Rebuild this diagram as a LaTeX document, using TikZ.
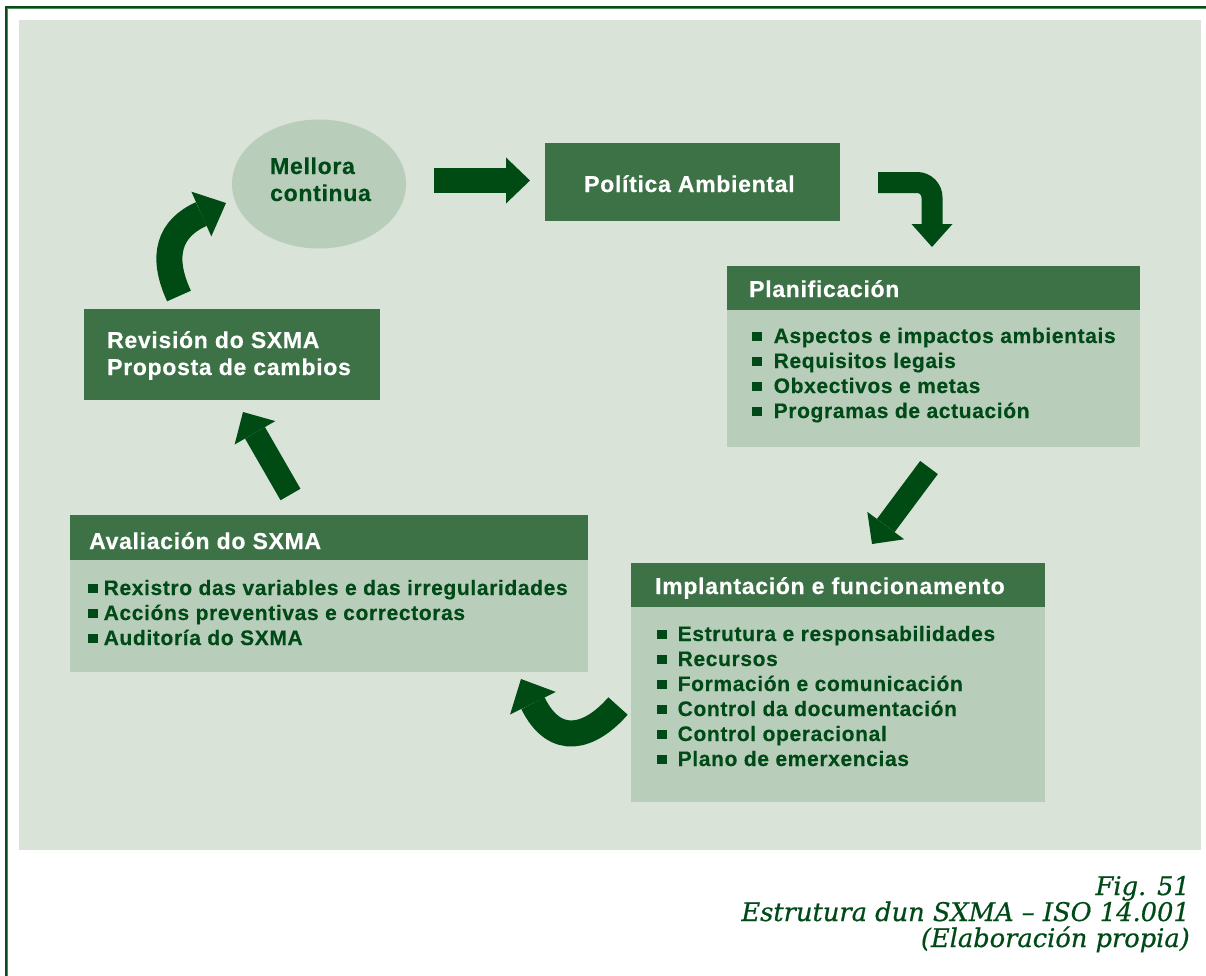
\documentclass[tikz,border=0pt]{standalone}
\usepackage{fontspec}
\newfontfamily\sansb{Liberation Sans}[LetterSpace=3,FakeBold=0.4]
\newfontfamily\capfont{DejaVu Serif}[FakeBold=0.6]
\usetikzlibrary{arrows.meta,shapes.geometric}
\definecolor{frameg}{HTML}{0B4A1B}
\definecolor{framel}{HTML}{4F8A5A}
\definecolor{panelg}{HTML}{D9E3D8}
\definecolor{headg}{HTML}{3D7146}
\definecolor{bodyg}{HTML}{B9CEBA}
\definecolor{arrowg}{HTML}{004B14}
\definecolor{textg}{HTML}{004A18}
\newcommand\sqb{\textcolor{textg}{\rule[2pt]{9.5pt}{9.5pt}}}
\begin{document}
\begin{tikzpicture}[x=1pt,y=-1pt,
  boxbase/.style={draw=none, anchor=north west, inner sep=0pt, outer sep=0pt},
  headbox/.style={boxbase, fill=headg},
  bodybox/.style={boxbase, fill=bodyg},
  htext/.style={anchor=base west, inner sep=0pt, text=white, font=\sansb\bfseries\fontsize{23}{27}\selectfont},
  etext/.style={htext, text=textg},
  item/.style={anchor=base west, inner sep=0pt, text=textg, font=\sansb\bfseries\fontsize{21}{25}\selectfont},
  captext/.style={anchor=base east, inner sep=0pt, text=textg, font=\capfont\itshape\fontsize{25.7}{27}\selectfont},
  bigarrow/.style={draw=arrowg, line cap=butt},
]
\useasboundingbox (0,0) rectangle (1206,975);
% frame
\coordinate (fbl) at (6.3,990);
\coordinate (ftl) at (6.3,7);
\coordinate (ftr) at (1220,7);
\coordinate (lbl) at (7.9,990);
\coordinate (ltl) at (7.9,8.7);
\coordinate (ltr) at (1220,8.7);
\draw[framel, line width=1.1pt] (lbl) -- (ltl) -- (ltr);
\draw[frameg, line width=2.3pt] (fbl) -- (ftl) -- (ftr);
% panel
\node[boxbase, fill=panelg, minimum width=1182pt, minimum height=830pt] (panel) at (19,20) {};

% Mellora continua
\node[ellipse, fill=bodyg, draw=none, minimum width=174pt, minimum height=129pt, inner sep=0pt] (mell) at (319,184) {};
\node[etext] (mell1) at (270,174) {Mellora};
\node[etext] (mell2) at (270,201) {continua};

% Politica
\node[headbox, minimum width=295pt, minimum height=78pt] (pol) at (545,143) {};
\node[htext] (polt) at (584,192) {Política Ambiental};

% Planificacion
\node[headbox, minimum width=413pt, minimum height=44pt] (planH) at (727,266) {};
\node[bodybox, minimum width=413pt, minimum height=137pt] (planB) at (727,310) {};
\node[htext] (planT) at (749,297) {Planificación};
\node[item] (pl1) at (752,343) {\sqb\hspace{12pt}Aspectos e impactos ambientais};
\node[item] (pl2) at (752,368) {\sqb\hspace{12pt}Requisitos legais};
\node[item] (pl3) at (752,393) {\sqb\hspace{12pt}Obxectivos e metas};
\node[item] (pl4) at (752,418) {\sqb\hspace{12pt}Programas de actuación};

% Implantacion
\node[headbox, minimum width=414pt, minimum height=44pt] (impH) at (631,563) {};
\node[bodybox, minimum width=414pt, minimum height=195pt] (impB) at (631,607) {};
\node[htext] (impT) at (655,594) {Implantación e funcionamento};
\node[item] (im1) at (657,641) {\sqb\hspace{11pt}Estrutura e responsabilidades};
\node[item] (im2) at (657,666) {\sqb\hspace{11pt}Recursos};
\node[item] (im3) at (657,691) {\sqb\hspace{11pt}Formación e comunicación};
\node[item] (im4) at (657,716) {\sqb\hspace{11pt}Control da documentación};
\node[item] (im5) at (657,741) {\sqb\hspace{11pt}Control operacional};
\node[item] (im6) at (657,766) {\sqb\hspace{11pt}Plano de emerxencias};

% Avaliacion
\node[headbox, minimum width=518pt, minimum height=45pt] (avH) at (70,515) {};
\node[bodybox, minimum width=518pt, minimum height=112pt] (avB) at (70,560) {};
\node[htext] (avT) at (89,549) {Avaliación do SXMA};
\node[item] (av1) at (88,595) {\sqb\hspace{6pt}Rexistro das variables e das irregularidades};
\node[item] (av2) at (88,620) {\sqb\hspace{6pt}Accións preventivas e correctoras};
\node[item] (av3) at (88,645) {\sqb\hspace{6pt}Auditoría do SXMA};

% Revision
\node[headbox, minimum width=296pt, minimum height=91pt] (rev) at (84,309) {};
\node[htext] (rev1) at (107,348) {Revisión do SXMA};
\node[htext] (rev2) at (107,375) {Proposta de cambios};

% arrows
\coordinate (a1s) at (434,180.5);
\coordinate (a1e) at (530,180.5);
\draw[bigarrow, line width=25pt, -{Triangle[length=24pt,width=46pt,line width=0pt]}] (a1s) -- (a1e);

\coordinate (a2s) at (878,182.5);
\coordinate (a2a) at (917,182.5);
\coordinate (a2b) at (932,197.5);
\coordinate (a2e) at (932,247);
\draw[bigarrow, line width=21pt, -{Triangle[length=23pt,width=41pt,line width=0pt]}] (a2s) -- (a2a) .. controls (925.3,182.5) and (932,189.2) .. (a2b) -- (a2e);

\coordinate (a3s) at (929,467.5);
\coordinate (a3e) at (872,544);
\draw[bigarrow, line width=22pt, -{Triangle[length=23pt,width=46pt,line width=0pt]}] (a3s) -- (a3e);

\coordinate (a4s) at (618,706);
\coordinate (a4e) at (521,679);
\draw[bigarrow, line width=26pt, -{Triangle[length=27pt,width=51pt,line width=0pt]}] (a4s) .. controls (590,738) and (555,748) .. (a4e);

\coordinate (a5s) at (290.5,494.5);
\coordinate (a5e) at (243,412);
\draw[bigarrow, line width=23pt, -{Triangle[length=24pt,width=47pt,line width=0pt]}] (a5s) -- (a5e);

\coordinate (a6s) at (179,296);
\coordinate (a6e) at (226,203);
\draw[bigarrow, line width=26pt, -{Triangle[length=27pt,width=49pt,line width=0pt]}] (a6s) .. controls (160,255) and (170,228) .. (a6e);

% caption
\node[captext] (cap1) at (1190,895) {Fig. 51};
\node[captext] (cap2) at (1190,921) {Estrutura dun SXMA – ISO 14.001};
\node[captext] (cap3) at (1190,947) {(Elaboración propia)};
\end{tikzpicture}
\end{document}
